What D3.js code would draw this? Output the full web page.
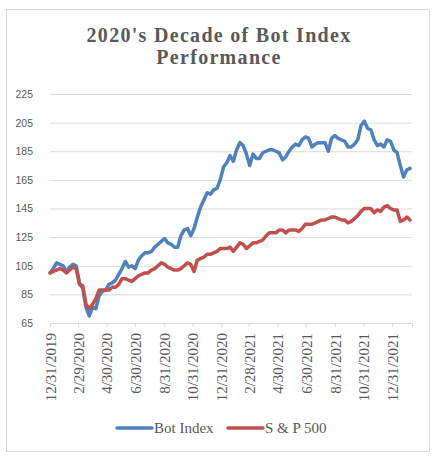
<!DOCTYPE html>
<html>
<head>
<meta charset="utf-8">
<script src="https://cdn.jsdelivr.net/npm/d3@7"></script>
<style>
  html, body { margin: 0; padding: 0; background: #fff; }
  svg { display: block; }
</style>
</head>
<body>
<div id="chart"></div>
<script>
// weekly closes, rebased to 100 on 12/31/2019
var startDate = "12/31/2019";
var botIndex = [100, 103, 107, 106, 105, 101, 104, 106, 105, 93,
  89, 76, 70, 76, 75, 84, 87, 88, 92, 93,
  95, 99, 103, 108, 104, 105, 103, 109, 112, 114,
  114, 115, 118, 120, 122, 124, 121, 120, 118, 118,
  126, 130, 131, 126, 131, 139, 146, 151, 156, 155,
  158, 159, 165, 174, 177, 182, 178, 186, 191, 189,
  183, 175, 183, 180, 180, 184, 185, 186, 186, 185,
  184, 179, 181, 185, 188, 190, 189, 193, 195, 194,
  188, 190, 191, 191, 191, 185, 194, 196, 194, 193,
  192, 188, 188, 190, 193, 203, 206, 201, 200, 193,
  189, 190, 188, 193, 192, 186, 184, 175, 167, 172,
  173];
var sp500 = [100, 101, 102, 103, 102, 100, 102, 104, 103, 92,
  91, 78, 75, 78, 82, 88, 88, 88, 88, 90,
  90, 92, 96, 96, 95, 94, 96, 98, 99, 100,
  100, 102, 103, 105, 107, 106, 104, 103, 102, 102,
  103, 105, 107, 106, 101, 109, 110, 111, 113, 113,
  114, 115, 117, 117, 117, 118, 115, 118, 121, 120,
  117, 119, 121, 121, 122, 123, 126, 128, 128, 128,
  130, 130, 128, 130, 130, 130, 129, 131, 134, 134,
  134, 135, 136, 137, 137, 138, 139, 139, 138, 137,
  137, 135, 136, 138, 140, 143, 145, 145, 145, 142,
  144, 143, 146, 147, 145, 144, 144, 136, 137, 139,
  137];
var seriesNames = ["Bot Index", "S & P 500"];
var seriesColors = ["#4F81BD", "#C0504D"];
var tickLabels = ["12/31/2019", "2/29/2020", "4/30/2020", "6/30/2020", "8/31/2020",
  "10/31/2020", "12/31/2020", "2/28/2021", "4/30/2021", "6/30/2021",
  "8/31/2021", "10/31/2021", "12/31/2021"];
var yTicks = [65, 85, 105, 125, 145, 165, 185, 205, 225];

var width = 437;
var height = 457;
var margin = { left: 50, right: 25, top: 94, bottom: 134 };

var parseDate = d3.timeParse("%m/%d/%Y");
var start = parseDate(startDate);
var dates = botIndex.map((d, i) => d3.timeDay.offset(start, 7 * i));

var svg = d3.select("#chart")
  .append("svg")
  .attr("width", width)
  .attr("height", height);

// chart frame
svg.append("rect")
  .attr("x", 6.5)
  .attr("y", 9.5)
  .attr("width", 423)
  .attr("height", 442)
  .attr("fill", "#fff")
  .attr("stroke", "#d9d9d9");

var x = d3.scaleTime()
  .domain([start, d3.timeDay.offset(start, 774)])
  .range([margin.left, width - margin.right]);

var y = d3.scaleLinear()
  .domain([65, 225])
  .range([height - margin.bottom, margin.top]);

// title
var title = svg.append("text")
  .attr("text-anchor", "middle")
  .attr("fill", "#595959")
  .style("font-family", "'Liberation Serif', 'DejaVu Serif', serif")
  .style("font-weight", "bold")
  .style("font-size", "20px")
  .style("letter-spacing", "1.3px");
title.append("tspan").attr("x", 219).attr("y", 42).text("2020's Decade of Bot Index");
title.append("tspan").attr("x", 219).attr("y", 64).text("Performance");

// gridlines + y labels
var yAxis = d3.axisLeft(y)
  .tickValues(yTicks)
  .tickSize(-(width - margin.left - margin.right))
  .tickPadding(17);

svg.append("g")
  .attr("transform", "translate(" + margin.left + ",0)")
  .call(yAxis)
  .call(g => g.select(".domain").remove())
  .call(g => g.selectAll(".tick line").attr("stroke", "#d9d9d9"))
  .call(g => g.selectAll(".tick text")
    .attr("fill", "#595959")
    .style("font-family", "'Liberation Sans', Arial, sans-serif")
    .style("font-size", "10.5px"));

// x axis
var xAxis = d3.axisBottom(x)
  .tickValues(tickLabels.map(parseDate))
  .tickSize(4)
  .tickFormat((d, i) => tickLabels[i]);

svg.append("g")
  .attr("transform", "translate(0," + y(65) + ")")
  .call(xAxis)
  .call(g => g.select(".domain").attr("stroke", "#d9d9d9"))
  .call(g => g.selectAll(".tick line").attr("stroke", "#d9d9d9"))
  .call(g => g.selectAll(".tick text")
    .attr("fill", "#595959")
    .attr("transform", "rotate(-90)")
    .attr("text-anchor", "end")
    .attr("x", -10)
    .attr("y", 0)
    .attr("dy", "0.35em")
    .style("font-family", "'Liberation Serif', 'DejaVu Serif', serif")
    .style("font-size", "15px"));

// lines
var line = d3.line()
  .x((d, i) => x(dates[i]))
  .y(d => y(d));

[botIndex, sp500].forEach(function (series, k) {
  svg.append("path")
    .datum(series)
    .attr("fill", "none")
    .attr("stroke", seriesColors[k])
    .attr("stroke-width", 3.5)
    .attr("stroke-linejoin", "round")
    .attr("stroke-linecap", "round")
    .attr("d", line);
});

// legend
var legend = svg.append("g")
  .selectAll("g")
  .data(seriesNames)
  .enter()
  .append("g")
  .attr("transform", (d, i) => "translate(" + (117 + i * 111) + ",428)");

legend.append("line")
  .attr("x1", 0)
  .attr("x2", 35)
  .attr("stroke", (d, i) => seriesColors[i])
  .attr("stroke-width", 3.5)
  .attr("stroke-linecap", "round");

legend.append("text")
  .attr("x", 37)
  .attr("dy", "0.35em")
  .attr("fill", "#595959")
  .style("font-family", "'Liberation Serif', 'DejaVu Serif', serif")
  .style("font-size", "15px")
  .text(d => d);
</script>
</body>
</html>
